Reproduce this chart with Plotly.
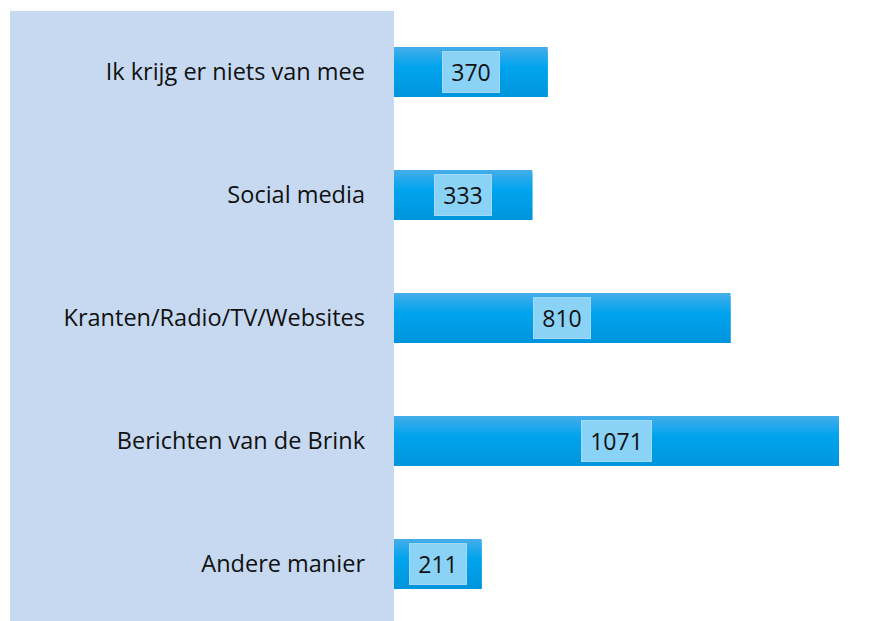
import plotly.graph_objects as go

categories = ["Ik krijg er niets van mee", "Social media", "Kranten/Radio/TV/Websites",
              "Berichten van de Brink", "Andere manier"]
values = [370, 333, 810, 1071, 211]

# page body has an 8px margin; figure coordinates are page coordinates minus 8
W, H = 875, 613
ML, MR, MT, MB = 386, 5, 4, 0
bar_w = 0.4065

def hex2rgb(h):
    h = h.lstrip('#')
    return tuple(int(h[i:i+2], 16) for i in (0, 2, 4))

def lerp(c1, c2, t):
    a, b = hex2rgb(c1), hex2rgb(c2)
    return 'rgb(%d,%d,%d)' % tuple(round(a[i] + (b[i] - a[i]) * t) for i in range(3))

stops = [(0.0, '#45ade9'), (0.4, '#00a4ee'), (1.0, '#0095dc')]

def grad(t):
    for (p0, c0), (p1, c1) in zip(stops, stops[1:]):
        if t <= p1:
            return lerp(c0, c1, (t - p0) / (p1 - p0))
    return stops[-1][1]

fig = go.Figure()
n = 16
s = bar_w / n
for i in range(n):
    off = -bar_w / 2 + i * s
    wid = min(2 * s, bar_w / 2 - off)
    fig.add_trace(go.Bar(
        x=values, y=categories, orientation='h',
        width=wid, offset=off,
        marker=dict(color=grad((i + 0.5) / n), line=dict(width=0)),
        hoverinfo='skip', showlegend=False))

for c, v in zip(categories, values):
    txt = str(v)
    fig.add_annotation(x=v / 2, y=c, text=txt, showarrow=False,
                       font=dict(family="Open Sans", size=23, color="#111111"),
                       width=len(txt) * 13 + 5, height=28,
                       bgcolor="#8ad2f6", bordercolor="#a3daf5", borderwidth=1,
                       borderpad=6)

fig.add_shape(type="rect", xref="paper", yref="paper",
              x0=(2 - ML) / (W - ML - MR), x1=0, y0=0, y1=1 + 1 / (H - MT - MB),
              fillcolor="#c6d9f0", line=dict(width=0), layer="below")

fig.update_layout(
    width=W, height=H, margin=dict(l=ML, r=MR, t=MT, b=MB),
    paper_bgcolor="white", plot_bgcolor="white", barmode="overlay",
    font=dict(family="Open Sans", size=23.5, color="#111111"),
    xaxis=dict(range=[0, 1165], visible=False, showgrid=False, zeroline=False),
    yaxis=dict(range=[4.463, -0.488], categoryorder="array", categoryarray=categories,
               showgrid=False, zeroline=False, showline=False, ticks="",
               ticklabelstandoff=28, tickfont=dict(family="Open Sans", size=23.5)),
)

fig.write_html("out.html")
